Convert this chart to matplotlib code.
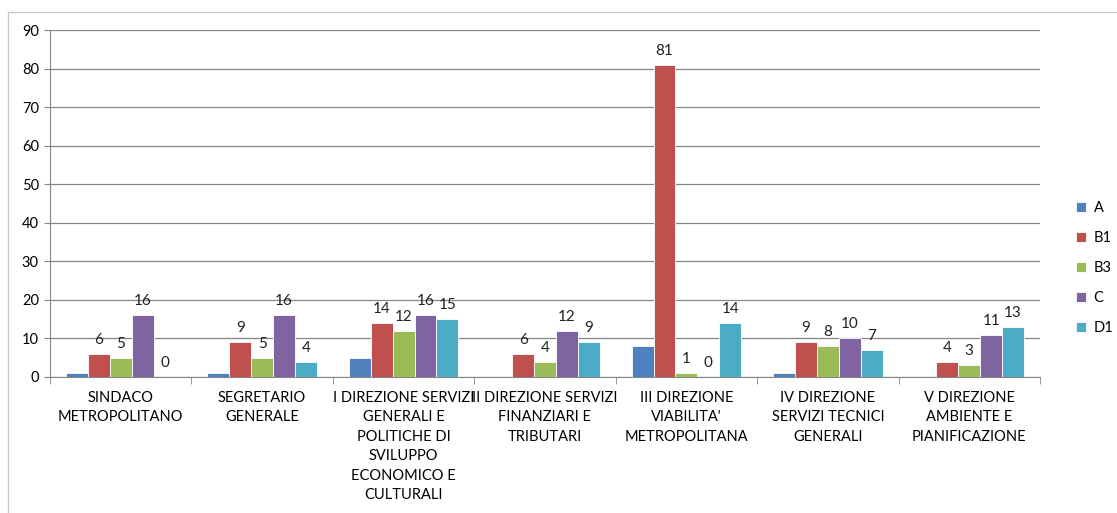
import matplotlib.pyplot as plt
import numpy as np
from matplotlib.patches import Rectangle

plt.rcParams['font.family'] = ['Lato', 'DejaVu Sans']

categories = [
    "SINDACO\nMETROPOLITANO",
    "SEGRETARIO\nGENERALE",
    "I DIREZIONE SERVIZI\nGENERALI E\nPOLITICHE DI\nSVILUPPO\nECONOMICO E\nCULTURALI",
    "II DIREZIONE SERVIZI\nFINANZIARI E\nTRIBUTARI",
    "III DIREZIONE\nVIABILITA'\nMETROPOLITANA",
    "IV DIREZIONE\nSERVIZI TECNICI\nGENERALI",
    "V DIREZIONE\nAMBIENTE E\nPIANIFICAZIONE",
]
series_names = ["A", "B1", "B3", "C", "D1"]
val_a = [1, 1, 5, 0, 8, 1, 0]
val_b1 = [6, 9, 14, 6, 81, 9, 4]
val_b3 = [5, 5, 12, 4, 1, 8, 3]
val_c = [16, 16, 16, 12, 0, 10, 11]
val_d1 = [0, 4, 15, 9, 14, 7, 13]
y_ticks = list(range(0, 100, 10))

colors = ["#4F81BD", "#C0504D", "#9BBB59", "#8064A2", "#4BACC6"]
labelled = [False, True, True, True, True]
grid_col = "#868686"

fig = plt.figure(figsize=(11.17, 5.13), dpi=100)
fig.patches.append(Rectangle((8 / 1117, -0.1), 1.2, 1 - 12 / 513 + 0.1,
                             transform=fig.transFigure, fill=False,
                             edgecolor="#c8c8c8", linewidth=1))
ax = fig.add_axes([50 / 1117, 1 - 377 / 513, 990 / 1117, 347 / 513])

x = np.arange(len(categories))
w = 0.155
all_vals = [val_a, val_b1, val_b3, val_c, val_d1]
for i, (name, vals) in enumerate(zip(series_names, all_vals)):
    pos = x + (i - 2) * w
    ax.bar(pos, vals, w, color=colors[i], label=name, zorder=3,
           edgecolor="white", linewidth=0.6)
    if labelled[i]:
        for xx, v in zip(pos, vals):
            ax.annotate(str(v), (xx, v), xytext=(0, 5), textcoords="offset points",
                        ha="center", va="bottom", fontsize=11, color="#222222")

ax.set_xlim(-0.5, len(categories) - 0.5)
ax.set_ylim(0, 90)
ax.set_yticks(y_ticks)
ax.tick_params(axis="y", length=4, color=grid_col, labelsize=10.5, pad=4)
ax.yaxis.grid(True, color=grid_col, linewidth=0.9, zorder=0)

ax.set_xticks(x)
ax.set_xticklabels(categories, fontsize=10.5, linespacing=1.5)
ax.tick_params(axis="x", length=0, pad=10)
ax.set_xticks(np.arange(-0.5, len(categories), 1), minor=True)
ax.tick_params(axis="x", which="minor", length=5, color=grid_col)

for s in ["top", "right"]:
    ax.spines[s].set_visible(False)
ax.spines["left"].set_color(grid_col)
ax.spines["bottom"].set_color(grid_col)

fig.legend(loc="center left", bbox_to_anchor=(1076 / 1117, 1 - 268 / 513),
           frameon=False, fontsize=10.5, handlelength=0.7, handleheight=0.7,
           labelspacing=1.1, handletextpad=0.5, borderaxespad=0, borderpad=0)

fig.savefig("out.png", dpi=100)
